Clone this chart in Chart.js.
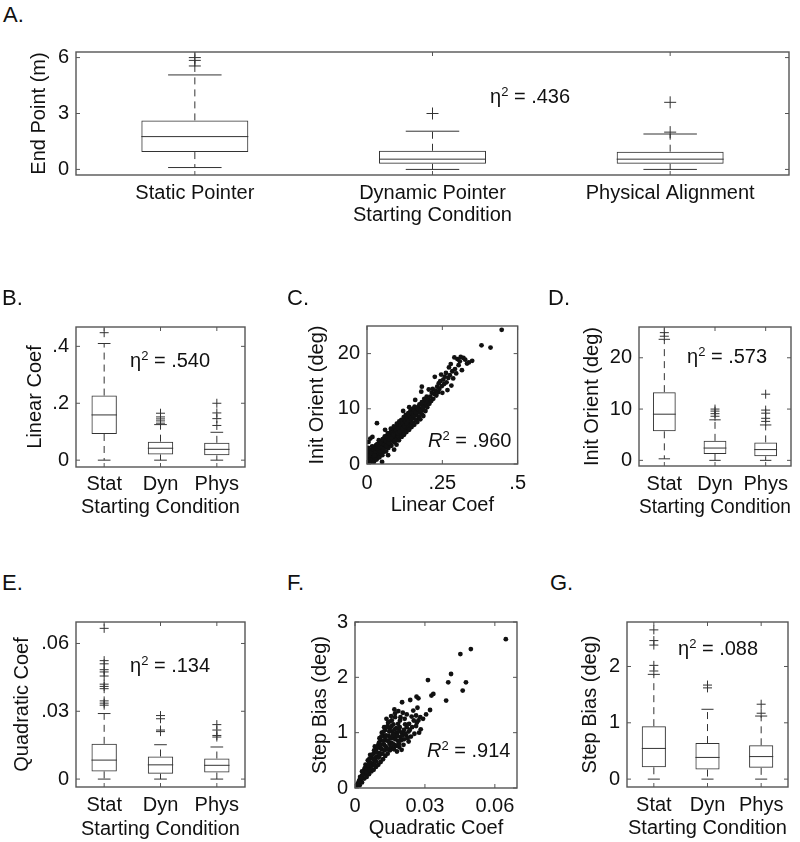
<!DOCTYPE html>
<html>
<head>
<meta charset="utf-8">
<script src="https://cdn.jsdelivr.net/npm/chart.js@4.4.1/dist/chart.umd.min.js"></script>
<style>
  body { margin: 0; background: #fff; overflow: hidden; }
  #fig { position: relative; width: 800px; height: 842px; background: #fff; overflow: hidden;
         font-family: "Liberation Sans", Arial, sans-serif; color: #111; }
  #fig canvas { position: absolute; }
  .lbl { position: absolute; font-size: 22px; line-height: 22px; }
  .note { position: absolute; font-size: 20px; line-height: 20px; white-space: nowrap; }
  .note .sp { font-size: 13px; position: relative; top: -7px; }
</style>
</head>
<body>
<div id="fig"></div>
<script>
const catsLong = ['Static Pointer', 'Dynamic Pointer', 'Physical Alignment'];
const catsShort = ['Stat', 'Dyn', 'Phys'];

// A. end point (m)
const endQ1 = [0.93, 0.30, 0.30];
const endMed = [1.76, 0.55, 0.55];
const endQ3 = [2.63, 1.00, 0.95];
const endLo = [0.10, 0.00, 0.00];
const endHi = [5.07, 2.05, 1.90];
const endOut = [[5.55, 5.85, 6.0], [3.0], [2.0, 3.6]];
const endTicks = [0, 3, 6];
const endTickLabels = ['0', '3', '6'];

// B. linear coef
const linQ1 = [0.092, 0.020, 0.017];
const linMed = [0.159, 0.042, 0.038];
const linQ3 = [0.227, 0.065, 0.061];
const linLo = [0, 0, 0];
const linHi = [0.41, 0.125, 0.098];
const linOut = [[0.448], [0.13, 0.138, 0.145, 0.152, 0.165], [0.122, 0.146, 0.166, 0.2]];
const linTicks = [0, 0.2, 0.4];
const linTickLabels = ['0', '.2', '.4'];

// D. initial orientation (deg)
const oriQ1 = [5.66, 1.26, 0.8];
const oriMed = [9.0, 2.4, 2.1];
const oriQ3 = [13.3, 3.8, 3.5];
const oriLo = [0.3, 0, 0];
const oriHi = [23.6, 7.9, 6.9];
const oriOut = [[24.2, 24.9], [8.6, 9.1, 9.6, 10.0], [7.6, 8.2, 9.2, 9.8, 12.9]];
const oriTicks = [0, 10, 20];
const oriTickLabels = ['0', '10', '20'];

// E. quadratic coef
const quadQ1 = [0.0034, 0.0024, 0.0029];
const quadMed = [0.0084, 0.0063, 0.0061];
const quadQ3 = [0.0156, 0.0100, 0.0091];
const quadLo = [0, 0, 0];
const quadHi = [0.029, 0.0152, 0.0142];
const quadOut = [[0.0327, 0.0336, 0.0346, 0.040, 0.041, 0.042, 0.0456, 0.0474, 0.0484, 0.051, 0.0524, 0.0667],
                 [0.0210, 0.0217, 0.0267, 0.0281], [0.0186, 0.0193, 0.0217, 0.0241]];
const quadTicks = [0, 0.03, 0.06];
const quadTickLabels = ['0', '.03', '.06'];

// G. step bias (deg)
const biasQ1 = [0.21, 0.17, 0.20];
const biasMed = [0.545, 0.385, 0.40];
const biasQ3 = [0.94, 0.64, 0.60];
const biasLo = [0, 0, 0];
const biasHi = [1.86, 1.24, 1.12];
const biasOut = [[1.92, 2.02, 2.38, 2.46, 2.65], [1.62, 1.67], [1.17, 1.33]];
const biasTicks = [0, 1, 2];
const biasTickLabels = ['0', '1', '2'];

// C. init orient vs linear coef
const orientVsLinear = [
  [0.002,0.1],[0.004,0.4],[0.003,0.9],[0.006,0.2],[0.007,1.3],[0.002,1.6],[0.005,2.1],[0.001,2.4],[0.004,2.9],
  [0.009,0.6],[0.01,1.8],[0.011,0.2],[0.012,2.5],[0.013,1.1],[0.015,0.5],[0.016,1.7],[0.018,2.4],[0.018,0.9],
  [0.02,3.1],[0.021,1.4],[0.023,0.4],[0.024,2.0],[0.026,2.8],[0.027,1.1],[0.029,1.8],[0.03,3.4],[0.032,0.8],
  [0.033,2.4],[0.035,1.5],[0.036,3.0],[0.038,2.1],[0.04,3.7],[0.041,1.2],[0.043,2.7],[0.045,1.9],[0.046,3.4],
  [0.048,4.2],[0.05,2.5],[0.051,1.6],[0.053,3.1],[0.055,3.9],[0.056,2.2],[0.058,4.6],[0.06,3.0],[0.061,3.7],
  [0.063,2.3],[0.065,4.3],[0.066,5.1],[0.068,3.4],[0.07,4.0],[0.071,2.9],[0.073,4.8],[0.075,5.5],[0.076,3.6],
  [0.078,4.4],[0.08,5.9],[0.081,3.3],[0.083,5.1],[0.085,4.2],[0.086,6.2],[0.088,4.8],[0.09,3.9],[0.091,5.6],
  [0.093,6.6],[0.095,4.6],[0.096,5.3],[0.098,3.5],[0.1,6.1],[0.101,7.0],[0.103,5.0],[0.105,5.7],[0.106,4.3],
  [0.108,6.5],[0.11,7.4],[0.111,5.4],[0.113,6.1],[0.115,4.9],[0.116,6.9],[0.118,7.8],[0.12,5.8],[0.121,6.6],
  [0.123,5.3],[0.125,7.3],[0.126,8.2],[0.128,6.2],[0.13,7.0],[0.131,5.8],[0.133,7.7],[0.135,8.6],[0.136,6.6],
  [0.138,7.4],[0.14,6.2],[0.141,8.1],[0.143,9.0],[0.145,7.0],[0.146,7.8],[0.148,6.7],[0.15,8.5],[0.152,9.4],
  [0.153,7.5],[0.155,8.3],[0.157,7.1],[0.159,9.0],[0.161,9.8],[0.163,8.0],[0.165,8.8],[0.167,7.6],[0.169,9.5],
  [0.171,10.3],[0.173,8.5],[0.175,9.3],[0.177,8.1],[0.179,10.0],[0.181,10.8],[0.183,9.0],[0.185,9.8],[0.187,8.7],
  [0.189,10.5],[0.191,11.3],[0.194,9.6],[0.196,11.0],[0.198,12.2],[0.2,10.3],[0.203,11.6],[0.205,13.5],
  [0.207,10.9],[0.21,12.2],[0.213,11.4],[0.215,12.9],[0.218,13.6],[0.22,11.8],[0.223,12.7],[0.225,15.8],
  [0.227,13.3],[0.23,12.4],[0.233,14.0],[0.236,13.0],[0.238,14.6],[0.24,13.6],[0.243,15.0],[0.246,16.2],
  [0.248,14.1],[0.25,12.9],[0.253,15.3],[0.256,14.5],[0.258,15.8],[0.262,16.5],[0.264,14.8],[0.267,13.4],
  [0.27,15.6],[0.272,17.5],[0.275,16.1],[0.278,18.1],[0.28,14.2],[0.283,16.8],[0.286,15.5],[0.29,19.3],
  [0.292,17.2],[0.296,16.4],[0.3,19.0],[0.304,17.9],[0.308,18.6],[0.311,19.4],[0.315,17.0],[0.32,19.2],
  [0.326,18.9],[0.332,18.2],[0.338,18.4],[0.349,18.7],[0.38,21.5],[0.41,21.1],[0.447,24.3],
  [0.033,7.4],[0.011,4.6],[0.018,4.9],[0.005,4.0],[0.12,9.6],[0.18,13.1],[0.182,14.0],[0.06,6.2],
  [0.14,10.3],[0.16,11.6],[0.096,4.3],[0.05,0.4],[0.07,1.6],[0.09,2.6],
  [0.008,1.5],[0.014,2.0],[0.017,3.2],[0.022,2.6],[0.025,1.6],[0.028,2.3],[0.031,2.8],[0.034,3.6],[0.037,2.6],
  [0.039,4.3],[0.042,3.1],[0.044,2.3],[0.047,3.8],[0.049,2.9],[0.052,4.5],[0.054,2.7],[0.057,3.5],[0.059,5.0],
  [0.062,4.2],[0.064,3.3],[0.067,4.7],[0.069,5.6],[0.072,3.8],[0.074,4.5],[0.077,5.2],[0.079,6.4],[0.082,4.7],
  [0.084,5.6],[0.087,5.3],[0.089,6.8],[0.092,4.2],[0.094,5.9],[0.097,6.1],[0.099,7.3],[0.102,5.6],[0.104,6.4],
  [0.107,7.7],[0.109,5.9],[0.112,7.0],[0.114,8.0],[0.117,6.4],[0.119,7.3],[0.122,8.5],[0.124,6.9],[0.127,7.8],
  [0.129,8.9],[0.132,7.3],[0.134,8.2],[0.137,9.2],[0.139,7.9],[0.142,8.7],[0.144,9.6],[0.147,8.3],[0.149,9.2],
  [0.151,10.0],[0.154,8.8],[0.156,9.7],[0.158,10.4],[0.162,9.3],[0.166,10.2],[0.17,9.9],[0.174,10.8],
  [0.178,9.6],[0.182,11.2],[0.186,10.2],[0.19,11.8]
];
const linXTicks = [0, 0.25, 0.5];
const linXTickLabels = ['0', '.25', '.5'];

// F. step bias vs quadratic coef
const biasVsQuad = [
  [0.0005,0.02],[0.001,0.06],[0.0015,0.1],[0.002,0.05],[0.002,0.15],[0.0025,0.12],[0.003,0.22],[0.003,0.1],
  [0.0035,0.28],[0.004,0.17],[0.004,0.33],[0.0045,0.24],[0.005,0.4],[0.005,0.2],[0.0055,0.31],[0.006,0.47],
  [0.006,0.25],[0.0065,0.38],[0.007,0.55],[0.007,0.3],[0.0075,0.44],[0.008,0.62],[0.008,0.33],[0.0085,0.5],
  [0.009,0.7],[0.009,0.38],[0.0095,0.57],[0.01,0.78],[0.01,0.42],[0.0105,0.63],[0.011,0.86],[0.011,0.47],
  [0.0115,0.7],[0.012,0.95],[0.012,0.52],[0.0125,0.78],[0.013,1.05],[0.013,0.58],[0.0135,0.86],[0.014,1.12],
  [0.014,0.62],[0.0145,0.94],[0.015,1.08],[0.015,0.68],[0.0155,0.82],[0.016,1.02],[0.016,0.72],[0.0165,0.9],
  [0.017,1.06],[0.017,0.78],[0.0175,0.95],[0.018,0.66],[0.018,1.0],[0.0185,0.85],[0.019,1.03],[0.019,0.74],
  [0.0195,0.92],[0.02,0.69],[0.02,1.0],[0.021,0.88],[0.021,1.05],[0.022,0.95],[0.023,0.84],[0.023,1.02],
  [0.024,0.93],[0.0055,0.5],[0.0065,0.6],[0.0045,0.42],[0.0085,0.75],[0.0105,0.9],[0.0115,1.0],[0.0125,1.1],
  [0.003,0.3],[0.0022,0.2],[0.0068,0.45],[0.0088,0.55],[0.0108,0.72],[0.0128,0.92],[0.0148,0.8],[0.0168,0.98],
  [0.0142,1.18],[0.0158,1.22],[0.0172,1.28],[0.0185,1.16],
  [0.0012,0.08],[0.0018,0.13],[0.0028,0.18],[0.0033,0.24],[0.0038,0.3],[0.0042,0.36],[0.0048,0.29],[0.0052,0.35],
  [0.0058,0.41],[0.0062,0.53],[0.0063,0.33],[0.0072,0.4],[0.0073,0.6],[0.0078,0.52],[0.0082,0.68],[0.0083,0.42],
  [0.0092,0.48],[0.0093,0.65],[0.0097,0.74],[0.0102,0.55],[0.0103,0.82],[0.0107,0.6],[0.0112,0.78],[0.0113,0.93],
  [0.0118,0.62],[0.0122,0.85],[0.0123,1.02],[0.0127,0.68],[0.0132,0.75],[0.0133,0.95],[0.0137,1.1],[0.0138,0.7],
  [0.0143,0.85],[0.0147,1.02],[0.0152,0.74],[0.0153,0.9],[0.0157,1.12],[0.0162,0.8],[0.0163,0.96],[0.0167,0.7],
  [0.0173,0.88],[0.0177,1.08],[0.0178,0.76],[0.0182,0.94],[0.0188,0.8],[0.0192,1.1],[0.0197,0.86],[0.0203,0.95],
  [0.0208,0.78],[0.0215,0.98],[0.0225,0.9],[0.0245,1.1],[0.0265,1.18],[0.0275,1.0],[0.0215,1.15],[0.0195,1.28],
  [0.0165,1.15],[0.0148,1.2],[0.0135,1.25],
  [0.0647,2.69],[0.0497,2.51],[0.0452,2.42],[0.0412,2.06],[0.040,1.91],[0.0476,1.91],[0.0462,1.76],
  [0.0391,1.58],[0.0313,1.95],[0.0328,1.67],[0.0336,1.70],[0.0322,1.41],[0.0264,1.65],[0.0272,1.62],
  [0.0237,1.59],[0.0202,1.55],[0.0169,1.42],[0.0172,1.35],[0.025,1.40],[0.0262,1.31],[0.028,1.28],
  [0.0272,1.22],[0.0243,1.29],[0.0222,1.33],[0.0213,1.25],[0.0232,1.16],[0.0262,1.12],[0.0282,1.06],
  [0.0222,1.10],[0.0252,1.22],[0.0193,1.22],[0.0205,1.36],[0.0186,1.39],[0.0155,1.3],[0.0292,1.25],
  [0.0305,1.33],[0.0268,1.45],[0.0235,1.05],[0.0255,0.98]
];
const quadXTicks = [0, 0.03, 0.06];
const quadXTickLabels = ['0', '0.03', '0.06'];
const stepTicks = [0, 1, 2, 3];
const stepTickLabels = ['0', '1', '2', '3'];

// ---- layout of each axes box (pixels) ----
const FONT = '"Liberation Sans", Arial, sans-serif';
const ink = '#333';
const txt = '#111';
const font20 = { family: FONT, size: 20 };

const geoA = { L: 76, T: 47, R: 789, B: 175, yTitleX: 39, xLabelY: 193, xTitleY: 215 };
const geoB = { L: 76, T: 322, R: 245, B: 467, yTitleX: 35, xLabelY: 484, xTitleY: 507 };
const geoC = { L: 367, T: 321, R: 519, B: 464, yTitleX: 317, xLabelY: 483, xTitleY: 505 };
const geoD = { L: 639, T: 322, R: 791, B: 466, yTitleX: 592, xLabelY: 484, xTitleY: 507 };
const geoE = { L: 76, T: 617, R: 245, B: 787, yTitleX: 22, xLabelY: 805, xTitleY: 829 };
const geoF = { L: 355, T: 617, R: 517, B: 788, yTitleX: 320, xLabelY: 806, xTitleY: 828 };
const geoG = { L: 627, T: 617, R: 788, B: 787, yTitleX: 590, xLabelY: 805, xTitleY: 828 };

function mount(g) {
  const left = g.yTitleX - 12;
  const top = g.T - 14;
  const padR = Math.min(14, 800 - g.R);
  const xh = g.xTitleY + 12 - g.B;
  const f = { padR: padR, xh: xh, yw: g.L - left, tickPad: g.xLabelY - g.B - 12 };
  const c = document.createElement('canvas');
  c.width = g.R + padR - left;
  c.height = g.B + xh - top;
  c.style.left = left + 'px';
  c.style.top = top + 'px';
  document.getElementById('fig').appendChild(c);
  return { c, f };
}

// frame with inward ticks on all four sides
const frame = {
  id: 'frame',
  afterDraw(chart) {
    const { ctx, chartArea: a, scales } = chart;
    const seg = (x1, y1, x2, y2) => { ctx.beginPath(); ctx.moveTo(x1, y1); ctx.lineTo(x2, y2); ctx.stroke(); };
    ctx.save();
    ctx.strokeStyle = '#555';
    ctx.lineWidth = 1.4;
    ctx.strokeRect(a.left, a.top, a.right - a.left, a.bottom - a.top);
    ctx.lineWidth = 1;
    const tl = 4;
    scales.y.ticks.forEach((t, i) => {
      const y = scales.y.getPixelForTick(i);
      seg(a.left, y, a.left + tl, y);
      seg(a.right, y, a.right - tl, y);
    });
    scales.x.ticks.forEach((t, i) => {
      const x = scales.x.getPixelForTick(i);
      seg(x, a.top, x, a.top + tl);
      seg(x, a.bottom, x, a.bottom - tl);
    });
    ctx.restore();
  }
};

function whiskers(st) {
  return {
    id: 'whiskers',
    afterDatasetsDraw(chart) {
      const { ctx } = chart;
      const ys = chart.scales.y;
      const py = v => ys.getPixelForValue(v);
      const seg = (x1, y1, x2, y2) => { ctx.beginPath(); ctx.moveTo(x1, y1); ctx.lineTo(x2, y2); ctx.stroke(); };
      ctx.save();
      ctx.strokeStyle = ink;
      ctx.lineWidth = 1;
      chart.getDatasetMeta(0).data.forEach((bar, i) => {
        const x = bar.x, hw = bar.width / 2, cw = hw * 0.5;
        seg(x - hw, py(st.med[i]), x + hw, py(st.med[i]));
        seg(x - cw, py(st.hi[i]), x + cw, py(st.hi[i]));
        seg(x - cw, py(st.lo[i]), x + cw, py(st.lo[i]));
        ctx.setLineDash([7, 5]);
        seg(x, py(st.q3[i]), x, py(st.hi[i]));
        seg(x, py(st.q1[i]), x, py(st.lo[i]));
        ctx.setLineDash([]);
      });
      ctx.restore();
    }
  };
}

function axisY(f, min, max, vals, labels, title) {
  return {
    type: 'linear', min: min, max: max,
    grid: { display: false, drawTicks: false }, border: { display: false },
    ticks: { font: font20, color: txt, padding: 7, callback: (v, i) => labels[i] },
    afterBuildTicks: s => { s.ticks = vals.map(v => ({ value: v })); },
    title: { display: true, text: title, font: font20, color: txt, padding: 0 },
    afterFit: s => { s.width = f.yw; }
  };
}

function baseOptions(f, scales) {
  return {
    responsive: false, animation: false, devicePixelRatio: 1,
    layout: { padding: { top: 14, right: f.padR, left: 0, bottom: 0 } },
    plugins: { legend: { display: false }, tooltip: { enabled: false } },
    scales: scales
  };
}

function boxChart(g, cats, st, yMin, yMax, yVals, yLabels, yTitle, crossR) {
  const { c, f } = mount(g);
  const outPts = [];
  st.out.forEach((arr, i) => arr.forEach(v => outPts.push({ x: cats[i], y: v })));
  new Chart(c, {
    type: 'bar',
    data: {
      labels: cats,
      datasets: [
        { type: 'bar', data: cats.map((_, i) => [st.q1[i], st.q3[i]]),
          backgroundColor: 'rgba(0,0,0,0)', borderColor: ink, borderWidth: 1,
          borderSkipped: false, barPercentage: 0.45, categoryPercentage: 1 },
        { type: 'scatter', data: outPts, pointStyle: 'cross', pointRadius: crossR,
          borderColor: ink, borderWidth: 1 }
      ]
    },
    options: baseOptions(f, {
      x: {
        type: 'category', offset: true,
        grid: { display: false, drawTicks: false }, border: { display: false },
        ticks: { font: font20, color: txt, padding: f.tickPad, maxRotation: 0, autoSkip: false },
        title: { display: true, text: 'Starting Condition', font: font20, color: txt, padding: 0 },
        afterFit: s => { s.height = f.xh; }
      },
      y: axisY(f, yMin, yMax, yVals, yLabels, yTitle)
    }),
    plugins: [whiskers(st), frame]
  });
}

function scatterChart(g, pts, xMin, xMax, xVals, xLabels, xTitle, yMin, yMax, yVals, yLabels, yTitle) {
  const { c, f } = mount(g);
  new Chart(c, {
    type: 'scatter',
    data: { datasets: [{ data: pts.map(p => ({ x: p[0], y: p[1] })), pointRadius: 2.4,
                         backgroundColor: '#111', borderWidth: 0 }] },
    options: baseOptions(f, {
      x: {
        type: 'linear', min: xMin, max: xMax,
        grid: { display: false, drawTicks: false }, border: { display: false },
        ticks: { font: font20, color: txt, padding: f.tickPad, maxRotation: 0, callback: (v, i) => xLabels[i] },
        afterBuildTicks: s => { s.ticks = xVals.map(v => ({ value: v })); },
        title: { display: true, text: xTitle, font: font20, color: txt, padding: 0 },
        afterFit: s => { s.height = f.xh; }
      },
      y: axisY(f, yMin, yMax, yVals, yLabels, yTitle)
    }),
    plugins: [frame]
  });
}

boxChart(geoA, catsLong,
  { q1: endQ1, med: endMed, q3: endQ3, lo: endLo, hi: endHi, out: endOut },
  -0.3, 6.3, endTicks, endTickLabels, 'End Point (m)', 6);
boxChart(geoB, catsShort,
  { q1: linQ1, med: linMed, q3: linQ3, lo: linLo, hi: linHi, out: linOut },
  -0.024, 0.468, linTicks, linTickLabels, 'Linear Coef', 4.5);
scatterChart(geoC, orientVsLinear, 0, 0.5, linXTicks, linXTickLabels, 'Linear Coef',
  0, 25, oriTicks, oriTickLabels, 'Init Orient (deg)');
boxChart(geoD, catsShort,
  { q1: oriQ1, med: oriMed, q3: oriQ3, lo: oriLo, hi: oriHi, out: oriOut },
  -1.1, 26, oriTicks, oriTickLabels, 'Init Orient (deg)', 4.5);
boxChart(geoE, catsShort,
  { q1: quadQ1, med: quadMed, q3: quadQ3, lo: quadLo, hi: quadHi, out: quadOut },
  -0.0035, 0.0695, quadTicks, quadTickLabels, 'Quadratic Coef', 4.5);
scatterChart(geoF, biasVsQuad, 0, 0.0695, quadXTicks, quadXTickLabels, 'Quadratic Coef',
  0, 3, stepTicks, stepTickLabels, 'Step Bias (deg)');
boxChart(geoG, catsShort,
  { q1: biasQ1, med: biasMed, q3: biasQ3, lo: biasLo, hi: biasHi, out: biasOut },
  -0.14, 2.79, biasTicks, biasTickLabels, 'Step Bias (deg)', 4.5);

// panel letters and statistics notes
const letters = [['A.', 3, 4], ['B.', 2, 287], ['C.', 287, 287], ['D.', 548, 287],
                 ['E.', 2, 572], ['F.', 287, 572], ['G.', 550, 572]];
const notes = [
  ['η<span class="sp">2</span> = .436', 490, 103],
  ['η<span class="sp">2</span> = .540', 130, 367],
  ['<i>R</i><span class="sp">2</span> = .960', 428, 447],
  ['η<span class="sp">2</span> = .573', 687, 363],
  ['η<span class="sp">2</span> = .134', 130, 672],
  ['<i>R</i><span class="sp">2</span> = .914', 427, 757],
  ['η<span class="sp">2</span> = .088', 678, 655]
];
const fig = document.getElementById('fig');
letters.forEach(([t, x, y]) => {
  const d = document.createElement('div');
  d.className = 'lbl'; d.textContent = t;
  d.style.left = x + 'px'; d.style.top = y + 'px';
  fig.appendChild(d);
});
notes.forEach(([h, x, base]) => {
  const d = document.createElement('div');
  d.className = 'note'; d.innerHTML = h;
  d.style.left = x + 'px'; d.style.top = (base - 17) + 'px';
  fig.appendChild(d);
});
</script>
</body>
</html>
